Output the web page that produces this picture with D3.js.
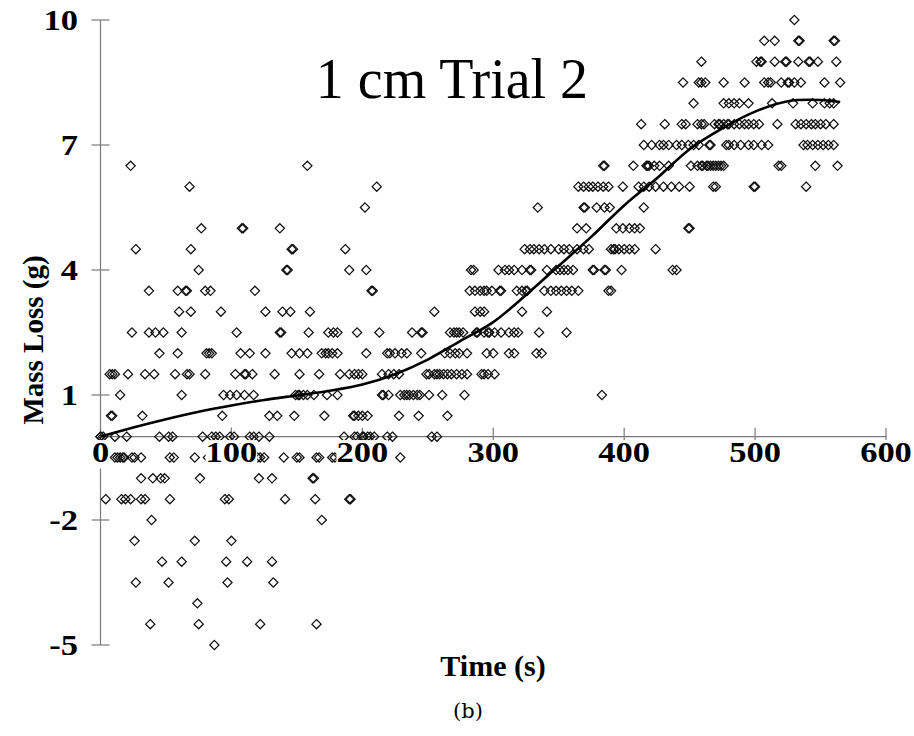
<!DOCTYPE html>
<html>
<head>
<meta charset="utf-8">
<script src="https://cdn.jsdelivr.net/npm/d3@7/dist/d3.min.js"></script>
<style>
  html, body { margin: 0; padding: 0; background: #fff; }
  svg { display: block; }
</style>
</head>
<body>
<svg id="chart" width="914" height="736"></svg>
<script>
// ---------------- data ----------------
const chartTitle = "1 cm Trial 2";
const xTitle = "Time (s)";
const yTitle = "Mass Loss (g)";
const caption = "(b)";
const xTicks = [0, 100, 200, 300, 400, 500, 600];
const yTicks = [-5, -2, 1, 4, 7, 10];

// observed mass loss: each row = [mass (g), times (s) at which that reading occurs]
const obsRows = [
  [10.0, [530]],
  [9.5, [507, 515, 533, 534, 560, 561]],
  [9.0, [459, 501, 504, 505, 515, 523, 524, 533, 541, 542, 548, 562]],
  [8.5, [445, 457, 459, 462, 476, 492, 507, 510, 512, 520, 525, 526, 530, 535, 553, 565]],
  [8.0, [453, 476, 480, 484, 488, 495, 513, 529, 544, 553, 557, 560]],
  [7.5, [413, 431, 444, 447, 456, 459, 461, 469, 472, 473, 476, 479, 480, 484, 488, 492, 495, 499, 503, 517, 531, 535, 539, 543, 546, 550, 554, 560]],
  [7.0, [415, 421, 427, 430, 434, 440, 444, 449, 453, 457, 465, 466, 478, 480, 484, 489, 495, 499, 505, 510, 537, 540, 544, 548, 552, 556, 560]],
  [6.5, [23, 158, 384, 385, 407, 417, 418, 419, 423, 427, 434, 451, 456, 459, 460, 463, 464, 466, 468, 470, 472, 474, 476, 518, 520, 546, 563]],
  [6.0, [68, 211, 365, 369, 373, 376, 380, 384, 388, 399, 411, 415, 419, 424, 430, 436, 442, 450, 468, 470, 499, 500, 539]],
  [5.5, [202, 334, 369, 370, 379, 385, 389, 415]],
  [5.0, [77, 108, 109, 137, 364, 371, 394, 399, 404, 408, 412, 449, 450]],
  [4.5, [27, 69, 146, 147, 187, 324, 328, 331, 335, 339, 344, 350, 354, 358, 364, 369, 373, 390, 392, 393, 396, 400, 404, 408, 424]],
  [4.0, [75, 142, 143, 190, 203, 283, 285, 304, 309, 312, 316, 322, 328, 329, 341, 348, 351, 354, 357, 361, 376, 377, 385, 386, 398, 437, 440]],
  [3.5, [37, 59, 65, 66, 80, 84, 118, 207, 208, 282, 286, 290, 293, 295, 299, 305, 306, 318, 322, 325, 326, 339, 344, 348, 352, 356, 360, 365, 388, 390]],
  [3.0, [60, 69, 92, 126, 139, 145, 160, 255, 286, 290, 293, 322, 341]],
  [2.5, [24, 37, 42, 48, 62, 104, 137, 138, 159, 174, 178, 181, 196, 213, 238, 245, 246, 267, 270, 272, 274, 277, 287, 288, 293, 296, 297, 301, 306, 312, 316, 319, 335, 356]],
  [2.0, [45, 59, 81, 83, 85, 107, 114, 126, 146, 152, 158, 169, 172, 174, 177, 181, 203, 219, 221, 225, 230, 234, 245, 263, 267, 271, 274, 280, 295, 300, 312, 316, 333, 337]],
  [1.5, [7, 9, 11, 21, 34, 41, 57, 66, 68, 80, 103, 110, 111, 116, 133, 152, 167, 183, 190, 194, 197, 200, 215, 220, 224, 228, 249, 251, 255, 257, 259, 262, 265, 268, 272, 276, 280, 291, 293, 296, 301]],
  [1.0, [15, 62, 94, 99, 104, 110, 117, 149, 151, 152, 155, 158, 163, 173, 181, 215, 216, 220, 229, 232, 234, 236, 239, 242, 244, 251, 261, 278, 383]],
  [0.5, [8, 9, 32, 93, 129, 135, 148, 171, 193, 194, 197, 200, 204, 228, 243, 265]],
  [0.0, [0, 0, 2, 11, 20, 45, 52, 55, 78, 85, 88, 91, 99, 102, 114, 117, 121, 129, 186, 194, 196, 200, 201, 204, 206, 209, 219, 223, 253, 257]],
  [-0.5, [11, 13, 15, 17, 18, 24, 26, 31, 53, 56, 72, 82, 89, 95, 97, 120, 122, 125, 140, 150, 152, 165, 167, 177, 179, 229]],
  [-1.0, [31, 40, 46, 49, 76, 121, 131, 162, 163]],
  [-1.5, [4, 16, 19, 23, 31, 34, 53, 95, 98, 141, 164, 190, 191]],
  [-2.0, [39, 169]],
  [-2.5, [26, 72, 100]],
  [-3.0, [47, 62, 96, 112, 131]],
  [-3.5, [27, 52, 97, 132]],
  [-4.0, [74]],
  [-4.5, [38, 75, 122, 165]],
  [-5.0, [87]]
];

// polynomial trend line
const fitTime = [0, 25, 50, 75, 100, 125, 150, 175, 200, 225, 250, 275, 300, 325, 350, 375, 400, 425, 450, 475, 500, 525, 550, 565];
const fitMass = [0, 0.22, 0.42, 0.6, 0.75, 0.88, 0.99, 1.1, 1.25, 1.5, 1.85, 2.3, 2.75, 3.4, 4.1, 4.8, 5.55, 6.2, 6.9, 7.4, 7.8, 8.05, 8.08, 8.03];

// ---------------- layout ----------------
const svg = d3.select("#chart");
const serif = "'Liberation Serif', 'Times New Roman', serif";
const x = d3.scaleLinear().domain([0, 600]).range([100.5, 886]);
const y = d3.scaleLinear().domain([-5, 10]).range([645, 20]);
const tickHalf = 9;
const axisColor = "#7a7a7a";

const points = [];
obsRows.forEach(([m, ts]) => ts.forEach(t => points.push({ t, m })));

// axes lines
const axes = svg.append("g").attr("stroke", axisColor).attr("stroke-width", 1.2);
axes.append("line").attr("x1", x(0)).attr("x2", x(600)).attr("y1", y(0)).attr("y2", y(0));
axes.append("line").attr("x1", x(0)).attr("x2", x(0)).attr("y1", y(10)).attr("y2", y(-5));
axes.selectAll("line.xt").data(xTicks).enter().append("line").attr("class", "xt")
  .attr("x1", d => x(d)).attr("x2", d => x(d)).attr("y1", y(0) - tickHalf).attr("y2", y(0) + tickHalf);
axes.selectAll("line.yt").data(yTicks).enter().append("line").attr("class", "yt")
  .attr("x1", x(0) - tickHalf).attr("x2", x(0) + tickHalf).attr("y1", d => y(d)).attr("y2", d => y(d));

// diamond markers
const squareDiamond = {
  draw(ctx, size) {
    const r = Math.sqrt(size / 2);
    ctx.moveTo(0, -r); ctx.lineTo(r, 0); ctx.lineTo(0, r); ctx.lineTo(-r, 0); ctx.closePath();
  }
};
const sym = d3.symbol().type(squareDiamond).size(2 * 4.6 * 4.6);
svg.append("g").selectAll("path").data(points).enter().append("path")
  .attr("d", sym)
  .attr("transform", d => `translate(${x(d.t)},${y(d.m)})`)
  .attr("fill", "none").attr("stroke", "#111").attr("stroke-width", 1.25);

// trend line
const line = d3.line().x(d => x(d[0])).y(d => y(d[1])).curve(d3.curveCatmullRom.alpha(0.5));
svg.append("path").datum(fitTime.map((t, i) => [t, fitMass[i]]))
  .attr("d", line).attr("fill", "none").attr("stroke", "#000").attr("stroke-width", 2.6);

// x tick labels (with white box that hides markers beneath)
const xl = svg.append("g");
xTicks.forEach(t => {
  const g = xl.append("g").attr("transform", `translate(${x(t)},462) scale(1.15,1)`);
  const txt = g.append("text").attr("text-anchor", "middle")
    .attr("font-family", serif).attr("font-weight", "bold").attr("font-size", 30).text(t);
  const bb = txt.node().getBBox();
  g.insert("rect", "text").attr("x", bb.x).attr("y", bb.y + 5).attr("width", bb.width).attr("height", bb.height - 5).attr("fill", "#fff");
});

// y tick labels
svg.append("g").selectAll("text").data(yTicks).enter().append("text")
  .attr("transform", d => `translate(78,${y(d) + 10}) scale(1.15,1)`)
  .attr("text-anchor", "end")
  .attr("font-family", serif).attr("font-weight", "bold").attr("font-size", 30)
  .text(d => d);

// titles
svg.append("text").attr("x", 452).attr("y", 98).attr("text-anchor", "middle")
  .attr("font-family", serif).attr("font-size", 56).text(chartTitle);
svg.append("text").attr("x", 493).attr("y", 676).attr("text-anchor", "middle")
  .attr("font-family", serif).attr("font-weight", "bold").attr("font-size", 30).text(xTitle);
svg.append("text").attr("transform", "translate(43,340) rotate(-90)").attr("text-anchor", "middle")
  .attr("font-family", serif).attr("font-weight", "bold").attr("font-size", 29).text(yTitle);
svg.append("text").attr("x", 468).attr("y", 718).attr("text-anchor", "middle")
  .attr("font-family", "'DejaVu Serif', serif").attr("font-size", 21).text(caption);
</script>
</body>
</html>
